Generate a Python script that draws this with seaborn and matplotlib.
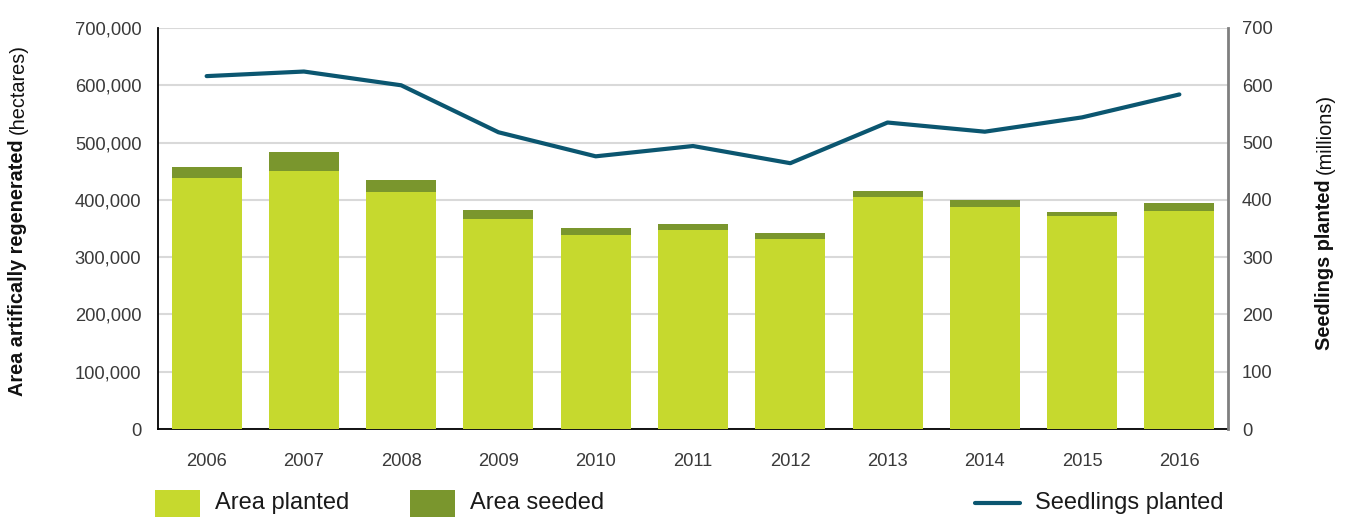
import matplotlib
matplotlib.use("Agg")
import matplotlib.pyplot as plt
import seaborn as sns
import numpy as np
import pandas as pd
from matplotlib.patches import Rectangle
from matplotlib.lines import Line2D
from matplotlib.ticker import FuncFormatter

years = ["2006", "2007", "2008", "2009", "2010", "2011", "2012", "2013", "2014", "2015", "2016"]
area_planted = [438000, 450000, 414000, 366000, 339000, 347000, 332000, 405000, 387000, 372000, 380000]
area_seeded = [19000, 33000, 21000, 16000, 12000, 11000, 10000, 10000, 13000, 7000, 14000]
seedlings = [616, 624, 600, 518, 476, 494, 464, 535, 519, 544, 584]

C_PLANT = "#c6d92e"
C_SEED = "#7a962d"
C_LINE = "#0b5670"

sns.set_theme(style="white")
plt.rcParams["font.family"] = ["Liberation Sans", "DejaVu Sans"]

df = pd.DataFrame({"year": years, "planted": area_planted, "seeded": area_seeded, "seedlings": seedlings})
df["total"] = df["planted"] + df["seeded"]

W, H = 1346, 517
fig = plt.figure(figsize=(W / 100, H / 100), dpi=100)
ax = fig.add_axes([158 / W, 1 - 429 / H, (1228 - 158) / W, (429 - 28) / H])

sns.barplot(data=df, x="year", y="total", color=C_SEED, width=0.72, saturation=1, ax=ax,
            zorder=2, linewidth=0, edgecolor="none")
sns.barplot(data=df, x="year", y="planted", color=C_PLANT, width=0.72, saturation=1, ax=ax,
            zorder=3, linewidth=0, edgecolor="none")
ax.set_xlim(-0.5, 10.5)
ax.set_ylim(0, 700000)
ax.set_yticks(np.arange(0, 700001, 100000))
ax.yaxis.set_major_formatter(FuncFormatter(lambda v, p: f"{int(v):,}"))
ax.grid(axis="y", color="#d9d9d9", linewidth=1.5)
ax.set_axisbelow(True)
ax.set_xlabel("")
ax.set_ylabel("")
ax.tick_params(axis="both", length=0, labelsize=13.2, labelcolor="#3a3a3a")
ax.tick_params(axis="x", pad=17)
ax.tick_params(axis="y", pad=12)
ax.spines["top"].set_visible(False)
ax.spines["left"].set_color("black")
ax.spines["left"].set_linewidth(1.3)
ax.spines["bottom"].set_color("black")
ax.spines["bottom"].set_linewidth(1.3)
ax.spines["right"].set_visible(False)

ax2 = ax.twinx()
sns.lineplot(x=np.arange(len(years)), y=seedlings, color=C_LINE, linewidth=3, ax=ax2, zorder=5)
ax2.set_ylim(0, 700)
ax2.set_yticks(np.arange(0, 701, 100))
ax2.tick_params(axis="y", length=0, labelsize=13.2, labelcolor="#3a3a3a", pad=10)
ax2.set_ylabel("")
ax2.spines["top"].set_visible(False)
ax2.spines["left"].set_visible(False)
ax2.spines["bottom"].set_visible(False)
ax2.spines["right"].set_color("#7f7f7f")
ax2.spines["right"].set_linewidth(2)
ax2.set_xlim(-0.5, 10.5)

# Axis titles (bold + regular parts)
fig.canvas.draw()
r = fig.canvas.get_renderer()

def two_part_vertical(x_px, y_bottom_px, bold, regular, size):
    t1 = fig.text(x_px / W, 1 - y_bottom_px / H, bold, rotation=90, fontweight="bold",
                  fontsize=size, ha="center", va="bottom", color="#111111")
    bb = t1.get_window_extent(renderer=r)
    top_px = H - bb.y1
    fig.text(x_px / W, 1 - (top_px - 5) / H, regular, rotation=90, fontsize=size,
             ha="center", va="bottom", color="#111111")

two_part_vertical(18, 396, "Area artifically regenerated", "(hectares)", 14.3)
two_part_vertical(1325, 350, "Seedlings planted", "(millions)", 14.3)

# Legend
def patch(x0, color):
    fig.patches.append(Rectangle((x0 / W, 0), 45 / W, 27 / H, transform=fig.transFigure,
                                 facecolor=color, edgecolor="none"))

LY = 1 - 503 / H
patch(155, C_PLANT)
fig.text(215 / W, LY, "Area planted", fontsize=17, va="center", ha="left", color="#1a1a1a")
patch(410, C_SEED)
fig.text(470 / W, LY, "Area seeded", fontsize=17, va="center", ha="left", color="#1a1a1a")
fig.lines.append(Line2D([975 / W, 1020 / W], [LY, LY], transform=fig.transFigure,
                        color=C_LINE, linewidth=3))
fig.text(1035 / W, LY, "Seedlings planted", fontsize=17, va="center", ha="left", color="#1a1a1a")

fig.savefig("out.png", dpi=100)
